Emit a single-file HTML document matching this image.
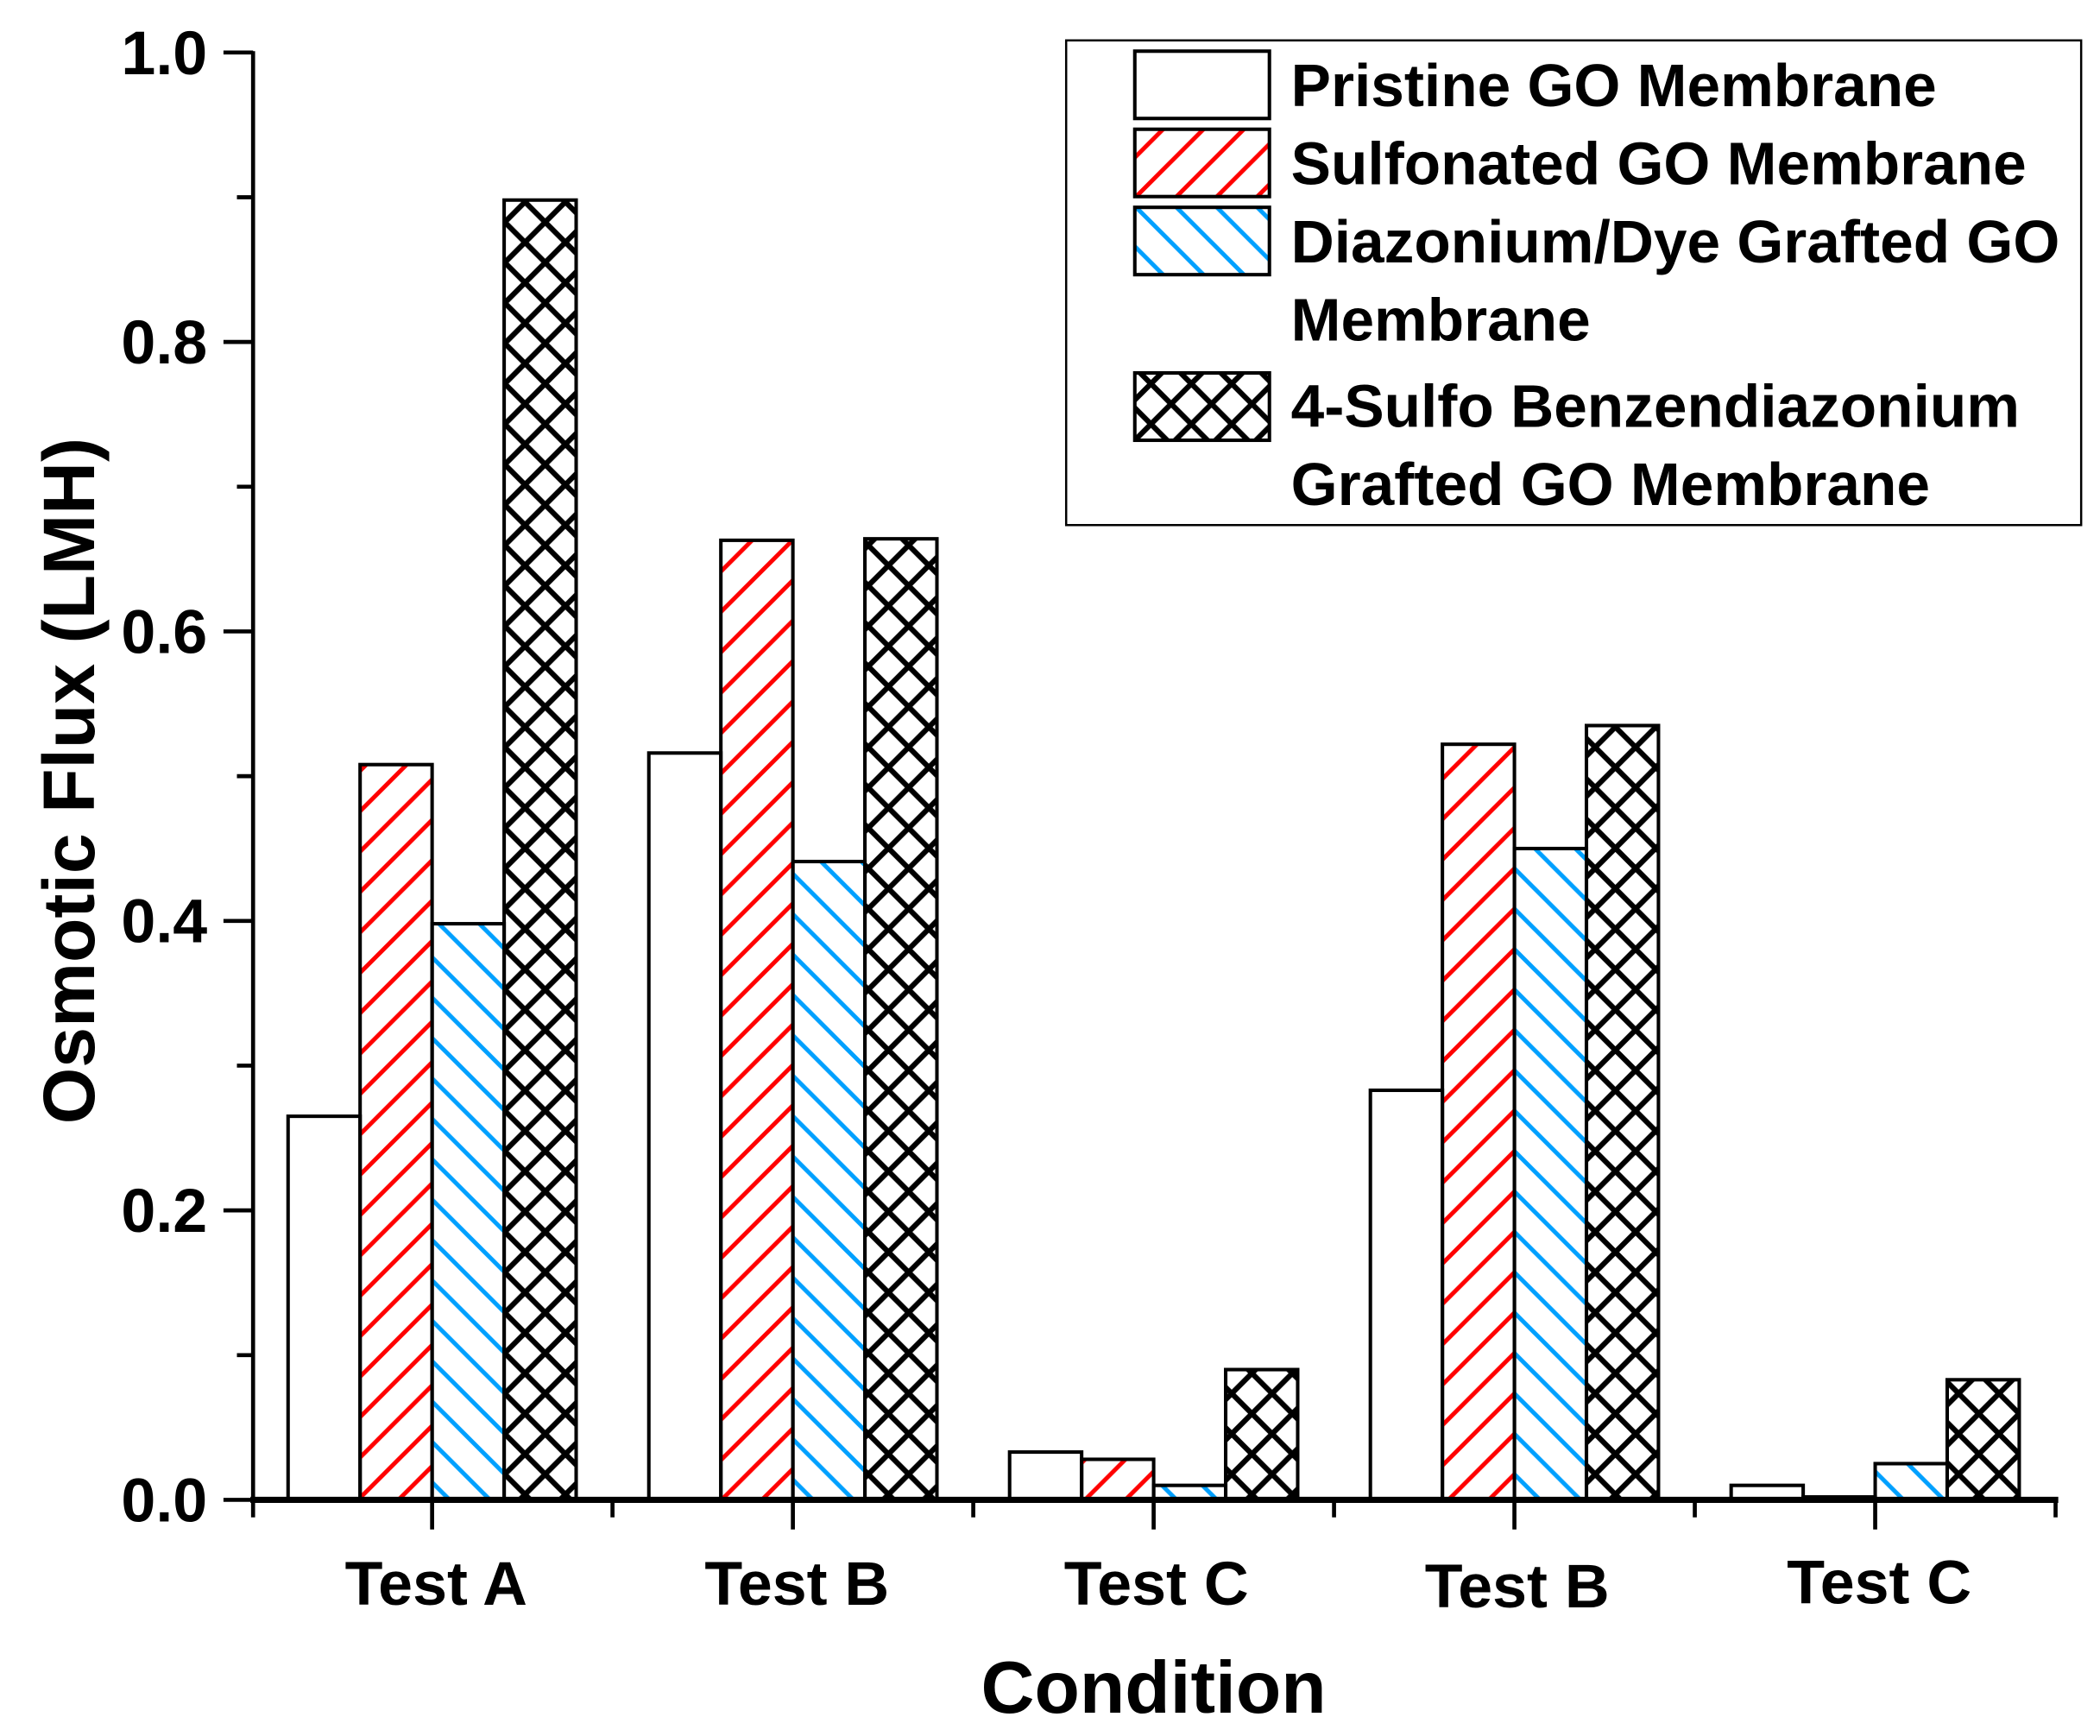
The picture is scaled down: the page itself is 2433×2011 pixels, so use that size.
<!DOCTYPE html>
<html><head><meta charset="utf-8"><style>
html,body{margin:0;padding:0;background:#fff;}
svg{display:block;}
text{font-family:"Liberation Sans",Arial,sans-serif;font-weight:bold;fill:#000;}
</style></head><body>
<svg width="2433" height="2011" viewBox="0 0 1560 1289.4" preserveAspectRatio="none" xmlns="http://www.w3.org/2000/svg">
<defs>
<pattern id="red" patternUnits="userSpaceOnUse" width="30" height="30">
<path d="M-5,35 L35,-5 M-5,5 L5,-5 M25,35 L35,25" stroke="#ff0000" stroke-width="3.2"/>
</pattern>
<pattern id="blue" patternUnits="userSpaceOnUse" width="30" height="30">
<path d="M-5,-5 L35,35 M-5,25 L5,35 M25,-5 L35,5" stroke="#00a0ff" stroke-width="3.2"/>
</pattern>
<pattern id="cross" patternUnits="userSpaceOnUse" width="30" height="30">
<path d="M-5,-5 L35,35 M-5,25 L5,35 M25,-5 L35,5 M-5,35 L35,-5 M-5,5 L5,-5 M25,35 L35,25" stroke="#000" stroke-width="4"/>
</pattern>
</defs>
<g stroke="#000" stroke-width="2.6">
<rect x="214" y="829.1" width="53.5" height="284.9" fill="#fff"/>
<rect x="267.5" y="567.9" width="53.5" height="546.1" fill="url(#red)"/>
<rect x="321" y="686.1" width="53.5" height="427.9" fill="url(#blue)"/>
<rect x="374.5" y="148.6" width="53.5" height="965.4" fill="url(#cross)"/>
<rect x="482" y="559.3" width="53.5" height="554.7" fill="#fff"/>
<rect x="535.5" y="401.3" width="53.5" height="712.7" fill="url(#red)"/>
<rect x="589" y="639.9" width="53.5" height="474.1" fill="url(#blue)"/>
<rect x="642.5" y="400.2" width="53.5" height="713.8" fill="url(#cross)"/>
<rect x="750" y="1078.5" width="53.5" height="35.5" fill="#fff"/>
<rect x="803.5" y="1083.9" width="53.5" height="30.1" fill="url(#red)"/>
<rect x="857" y="1103.25" width="53.5" height="10.75" fill="url(#blue)"/>
<rect x="910.5" y="1017.25" width="53.5" height="96.75" fill="url(#cross)"/>
<rect x="1018" y="809.8" width="53.5" height="304.2" fill="#fff"/>
<rect x="1071.5" y="552.8" width="53.5" height="561.2" fill="url(#red)"/>
<rect x="1125" y="630.25" width="53.5" height="483.75" fill="url(#blue)"/>
<rect x="1178.5" y="538.9" width="53.5" height="575.1" fill="url(#cross)"/>
<rect x="1286" y="1103.25" width="53.5" height="10.75" fill="#fff"/>
<rect x="1339.5" y="1111.85" width="53.5" height="2.15" fill="url(#red)"/>
<rect x="1393" y="1087.1" width="53.5" height="26.9" fill="url(#blue)"/>
<rect x="1446.5" y="1024.8" width="53.5" height="89.2" fill="url(#cross)"/>
</g>
<g stroke="#000" stroke-width="3" fill="none">
<line x1="188" y1="38" x2="188" y2="1116"/>
<line x1="186" y1="1114" x2="1529" y2="1114" stroke-width="4.5"/>
<line x1="166" y1="39" x2="188" y2="39"/><line x1="166" y1="254" x2="188" y2="254"/><line x1="166" y1="469" x2="188" y2="469"/><line x1="166" y1="684" x2="188" y2="684"/><line x1="166" y1="899" x2="188" y2="899"/><line x1="166" y1="1114" x2="188" y2="1114"/>
<line x1="176" y1="146.5" x2="188" y2="146.5"/><line x1="176" y1="361.5" x2="188" y2="361.5"/><line x1="176" y1="576.5" x2="188" y2="576.5"/><line x1="176" y1="791.5" x2="188" y2="791.5"/><line x1="176" y1="1006.5" x2="188" y2="1006.5"/>
<line x1="321" y1="1114" x2="321" y2="1136"/><line x1="589" y1="1114" x2="589" y2="1136"/><line x1="857" y1="1114" x2="857" y2="1136"/><line x1="1125" y1="1114" x2="1125" y2="1136"/><line x1="1393" y1="1114" x2="1393" y2="1136"/>
<line x1="188" y1="1114" x2="188" y2="1127"/><line x1="455" y1="1114" x2="455" y2="1127"/><line x1="723" y1="1114" x2="723" y2="1127"/><line x1="991" y1="1114" x2="991" y2="1127"/><line x1="1259" y1="1114" x2="1259" y2="1127"/><line x1="1527" y1="1114" x2="1527" y2="1127"/>
</g>
<g font-size="46" text-anchor="end">
<text x="154" y="55">1.0</text><text x="154" y="270">0.8</text><text x="154" y="485">0.6</text><text x="154" y="700">0.4</text><text x="154" y="915">0.2</text><text x="154" y="1130">0.0</text>
</g>
<g font-size="46" text-anchor="middle">
<text x="324" y="1192">Test A</text><text x="592" y="1192">Test B</text><text x="859" y="1192">Test C</text><text x="1127" y="1194">Test B</text><text x="1396" y="1191">Test C</text>
</g>
<text x="857" y="1272" font-size="55" text-anchor="middle">Condition</text>
<text transform="translate(70,580) rotate(-90)" font-size="54" text-anchor="middle">Osmotic Flux (LMH)</text>
<rect x="792" y="30" width="754" height="360" fill="#fff" stroke="#000" stroke-width="1.6"/>
<g stroke="#000" stroke-width="2.6">
<rect x="843" y="38" width="100" height="50" fill="#fff"/>
<rect x="843" y="96" width="100" height="50" fill="url(#red)"/>
<rect x="843" y="154" width="100" height="50" fill="url(#blue)"/>
<rect x="843" y="277" width="100" height="50" fill="url(#cross)"/>
</g>
<g font-size="44.5">
<text x="959" y="79">Pristine GO Membrane</text>
<text x="959" y="137">Sulfonated GO Membrane</text>
<text x="959" y="195">Diazonium/Dye Grafted GO</text>
<text x="959" y="253">Membrane</text>
<text x="959" y="317">4-Sulfo Benzendiazonium</text>
<text x="959" y="375">Grafted GO Membrane</text>
</g>
</svg>
</body></html>
